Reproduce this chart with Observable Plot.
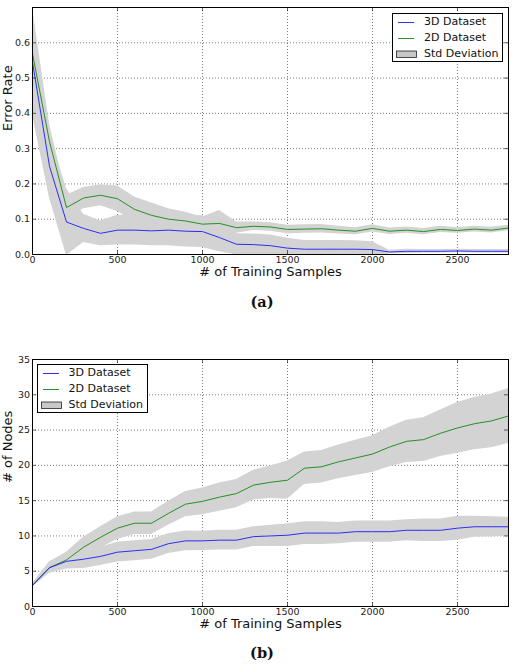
<!DOCTYPE html>
<html><head><meta charset="utf-8">
<script src="https://cdn.jsdelivr.net/npm/d3@7"></script>
<script src="https://cdn.jsdelivr.net/npm/@observablehq/plot@0.6"></script>
<style>
body{margin:0;background:#fff;font-family:"DejaVu Sans",sans-serif;}
#wrap{position:relative;width:514px;height:665px;overflow:hidden;}
.panel{position:absolute;left:0;}
.cap{position:absolute;left:0;width:524px;text-align:center;font:bold 14.5px "DejaVu Serif",serif;color:#111;line-height:16px;}
.legend{position:absolute;background:#fff;border:1px solid #000;box-sizing:border-box;}
.legend .row{position:absolute;left:31px;font-size:11px;line-height:12px;color:#111;white-space:nowrap;}
.legend svg{position:absolute;left:0;top:0;}
</style></head>
<body><div id="wrap"></div>
<script>
// ---- data ----
const samples = [0,100,200,300,400,500,600,700,800,900,1000,1100,1200,1300,1400,1500,1600,1700,1800,1900,2000,2100,2200,2300,2400,2500,2600,2700,2800];
const errMean3D = [0.545,0.25,0.092,0.074,0.06,0.069,0.069,0.067,0.069,0.066,0.065,0.048,0.029,0.028,0.025,0.018,0.015,0.015,0.015,0.015,0.014,0.007,0.009,0.009,0.009,0.010,0.009,0.009,0.009];
const errSd3D   = [0.15,0.09,0.095,0.04,0.035,0.042,0.042,0.042,0.044,0.045,0.045,0.04,0.03,0.03,0.03,0.028,0.025,0.025,0.025,0.024,0.022,0.005,0.006,0.005,0.005,0.005,0.005,0.005,0.005];
const errMean2D = [0.569,0.32,0.133,0.16,0.168,0.158,0.128,0.111,0.1,0.095,0.086,0.088,0.076,0.08,0.078,0.071,0.072,0.073,0.069,0.066,0.074,0.066,0.069,0.065,0.071,0.068,0.072,0.069,0.075];
const errSd2D   = [0.13,0.05,0.035,0.03,0.03,0.036,0.035,0.035,0.03,0.025,0.02,0.037,0.016,0.012,0.012,0.012,0.012,0.012,0.011,0.01,0.01,0.009,0.009,0.009,0.009,0.008,0.008,0.008,0.008];
const nodesMean3D = [3,5.5,6.4,6.7,7.1,7.7,7.9,8.1,8.9,9.3,9.3,9.4,9.4,9.9,10.0,10.1,10.4,10.4,10.4,10.6,10.6,10.6,10.8,10.8,10.8,11.1,11.3,11.3,11.3];
const nodesSd3D   = [0.2,0.8,1.1,1.3,1.3,1.4,1.4,1.4,1.4,1.4,1.35,1.4,1.4,1.4,1.5,1.6,1.6,1.6,1.5,1.5,1.5,1.5,1.5,1.6,1.6,1.7,1.5,1.4,1.35];
const nodesMean2D = [3,5.5,6.6,8.4,9.8,11.1,11.8,11.8,13.2,14.5,14.9,15.5,16.0,17.2,17.6,17.9,19.6,19.8,20.5,21.05,21.6,22.6,23.4,23.65,24.55,25.3,25.9,26.3,27.0];
const nodesSd2D   = [0.2,0.8,1.1,1.4,1.5,1.6,1.6,1.6,1.7,1.8,1.9,2.0,2.0,2.1,2.3,2.7,2.3,2.3,2.4,2.5,2.6,2.8,3.0,3.1,3.3,3.6,3.7,3.8,3.9];
const xTicks = [0,500,1000,1500,2000,2500];
const errTicks = [0,0.1,0.2,0.3,0.4,0.5,0.6];
const nodeTicks = [0,5,10,15,20,25,30,35];
const seriesNames = ["3D Dataset","2D Dataset","Std Deviation"];
const xLabel = "# of Training Samples";

const C3 = "#1a1aff", C2 = "#118811", BAND = "#d3d3d3";

function rows(mean, sd){ return samples.map((x,i)=>({x, m:mean[i], s:sd[i]})); }

function makePanel({m3,s3,m2,s2,yDomain,yTicks,yFmt,yLabel,marginTop,height}){
  const W=514, mL=32, mR=6, mB=36;
  const ih = height - marginTop - mB, iw = W - mL - mR, tk = 4;
  const d3s = rows(m3,s3), d2s = rows(m2,s2);
  const grid = {stroke:"#000", strokeOpacity:0.85, strokeWidth:0.6, strokeDasharray:"1,2"};
  return Plot.plot({
    width:W, height, marginLeft:mL, marginRight:mR, marginTop, marginBottom:mB,
    x:{domain:[0,2800]}, y:{domain:yDomain},
    style:{fontFamily:"DejaVu Sans", fontSize:"9.5px", color:"#222", background:"#fff"},
    marks:[
      Plot.gridX(xTicks, grid),
      Plot.gridY(yTicks, grid),
      Plot.areaY(d3s,{x:"x", y1:d=>d.m-d.s, y2:d=>d.m+d.s, fill:BAND, clip:true}),
      Plot.areaY(d2s,{x:"x", y1:d=>d.m-d.s, y2:d=>d.m+d.s, fill:BAND, clip:true}),
      Plot.lineY(d2s,{x:"x", y:"m", stroke:C2, strokeWidth:0.9, clip:true}),
      Plot.lineY(d3s,{x:"x", y:"m", stroke:C3, strokeWidth:0.9, clip:true}),
      Plot.tickX(xTicks,{x:d=>d, insetTop:ih-tk, stroke:"#000", strokeWidth:0.6}),
      Plot.tickX(xTicks,{x:d=>d, insetBottom:ih-tk, stroke:"#000", strokeWidth:0.6}),
      Plot.tickY(yTicks,{y:d=>d, insetRight:iw-tk, stroke:"#000", strokeWidth:0.6}),
      Plot.tickY(yTicks,{y:d=>d, insetLeft:iw-tk, stroke:"#000", strokeWidth:0.6}),
      Plot.axisX({ticks:xTicks, tickSize:0, tickPadding:2, label:null, tickFormat:d=>String(d)}),
      Plot.axisY({ticks:yTicks, tickSize:0, tickPadding:2.5, label:null, tickFormat:yFmt}),
      Plot.text([xLabel],{frameAnchor:"bottom", dy:21.5, fontSize:13, fill:"#111"}),
      Plot.text([yLabel],{frameAnchor:"left", dx:-25, rotate:-90, fontSize:13, fill:"#111"}),
      Plot.frame({stroke:"#000", strokeWidth:1})
    ]
  });
}

const wrap = document.getElementById("wrap");

function place(el, top){ el.classList.add("panel"); el.style.top = top+"px"; wrap.appendChild(el); }

place(makePanel({m3:errMean3D,s3:errSd3D,m2:errMean2D,s2:errSd2D,yDomain:[0,0.7],yTicks:errTicks,yFmt:d3.format(".1f"),yLabel:"Error Rate",marginTop:7,height:290}), 0);
place(makePanel({m3:nodesMean3D,s3:nodesSd3D,m2:nodesMean2D,s2:nodesSd2D,yDomain:[0,35],yTicks:nodeTicks,yFmt:d=>String(d),yLabel:"# of Nodes",marginTop:19,height:302}), 340);

function caption(txt, cy){
  const c = document.createElement("div"); c.className="cap"; c.textContent=txt;
  c.style.top=(cy-8)+"px"; wrap.appendChild(c);
}
caption("(a)", 302);
caption("(b)", 653);

function legend(left, top){
  const L = document.createElement("div"); L.className="legend";
  L.style.left=left+"px"; L.style.top=top+"px"; L.style.width="111px"; L.style.height="49px";
  const ns="http://www.w3.org/2000/svg";
  const svg = document.createElementNS(ns,"svg"); svg.setAttribute("width","110"); svg.setAttribute("height","48");
  const rowsY=[8,24,40];
  [C3,C2].forEach((c,i)=>{
    const l=document.createElementNS(ns,"line");
    l.setAttribute("x1",5); l.setAttribute("x2",21); l.setAttribute("y1",rowsY[i]+0.5); l.setAttribute("y2",rowsY[i]+0.5);
    l.setAttribute("stroke",c); l.setAttribute("stroke-width",0.9); svg.appendChild(l);
  });
  const r=document.createElementNS(ns,"rect");
  r.setAttribute("x",3.5); r.setAttribute("y",rowsY[2]-3); r.setAttribute("width",20); r.setAttribute("height",6.5);
  r.setAttribute("fill","#c8c8c8"); r.setAttribute("stroke","#222"); r.setAttribute("stroke-width",0.8);
  svg.appendChild(r);
  L.appendChild(svg);
  seriesNames.forEach((n,i)=>{
    const t=document.createElement("div"); t.className="row"; t.textContent=n; t.style.top=(rowsY[i]-6)+"px"; L.appendChild(t);
  });
  wrap.appendChild(L);
}
legend(392, 12.5);
legend(36.5, 363.5);
</script>
</body></html>
